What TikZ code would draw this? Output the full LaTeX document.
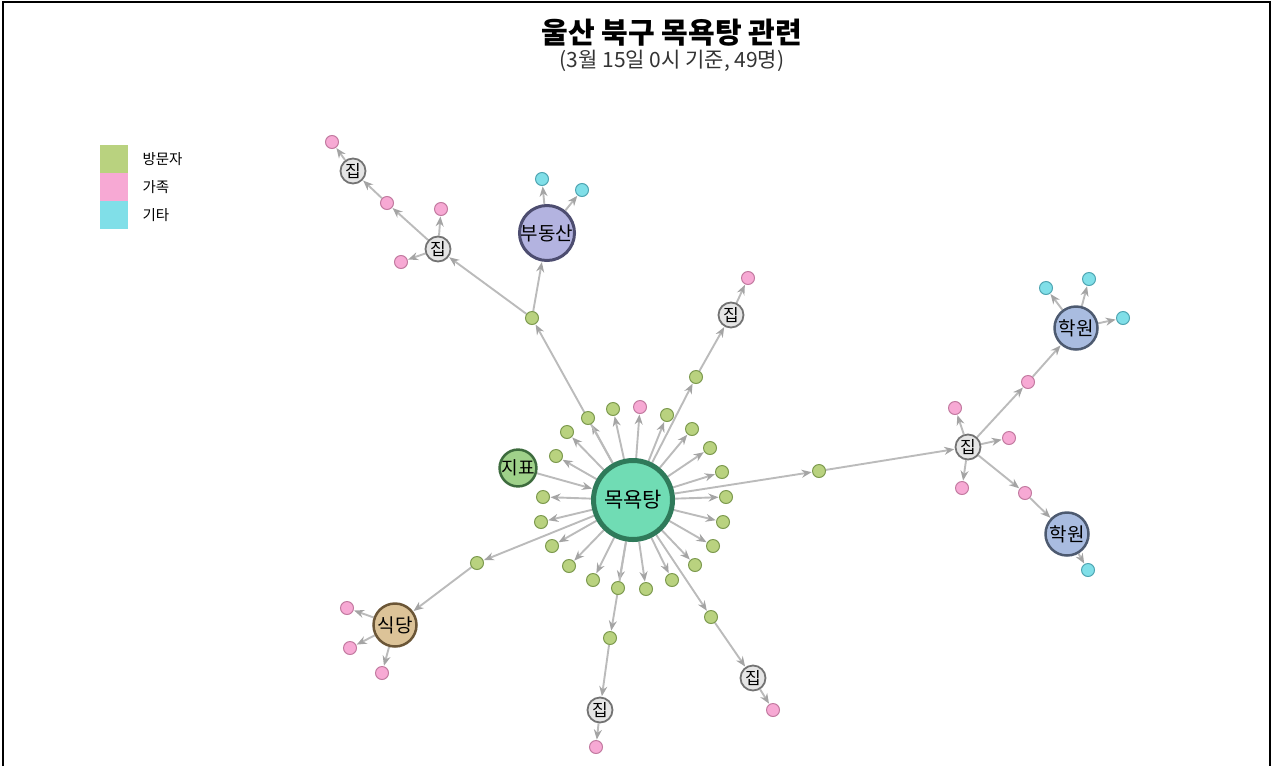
\documentclass[tikz,border=0pt]{standalone}
\usepackage{fontspec}
\newfontfamily\kr{Noto Sans CJK KR}
\usetikzlibrary{arrows.meta,backgrounds}
\definecolor{vfill}{HTML}{B9D27F}
\definecolor{vdraw}{HTML}{7D9A4F}
\definecolor{ffill}{HTML}{F7A9D4}
\definecolor{fdraw}{HTML}{C27AA0}
\definecolor{ofill}{HTML}{80DFE8}
\definecolor{odraw}{HTML}{4FA5B2}
\definecolor{edgec}{HTML}{BBBBBB}
\definecolor{tipc}{HTML}{A4A4A4}
\begin{document}
\begin{tikzpicture}[x=1pt,y=-1pt,
  person/.style={circle,inner sep=0pt,minimum size=13pt,line width=1pt},
  vis/.style={person,fill=vfill,draw=vdraw},
  fam/.style={person,fill=ffill,draw=fdraw},
  oth/.style={person,fill=ofill,draw=odraw},
  place/.style={circle,inner sep=0pt,font=\kr\fontsize{19}{19}\selectfont},
  house/.style={place,minimum size=25pt,line width=1.8pt,fill=black!10,draw=black!55,font=\kr\fontsize{17}{17}\selectfont},
  edge/.style={draw=edgec,line width=1.9pt,-{Stealth[length=10pt,width=8pt,color=tipc]},shorten >=0.5pt},
  legbox/.style={minimum width=28pt,minimum height=28pt,inner sep=0pt},
  leglab/.style={anchor=west,font=\kr\fontsize{14.5}{14.5}\selectfont}
]
\useasboundingbox (0,0) rectangle (1273,766);
\draw[line width=1.5pt] (3,766) |- (1270,2) -- (1270,766);
% title
\node[font=\kr\bfseries\fontsize{29}{29}\selectfont] (title) at (672,33) {울산 북구 목욕탕 관련};
\node[font=\kr\fontsize{21}{21}\selectfont,text=black!80] (sub) at (672,61) {(3월 15일 0시 기준, 49명)};
% legend
\node[legbox,fill=vfill] (lg1) at (114,159) {};
\node[legbox,fill=ffill] (lg2) at (114,187) {};
\node[legbox,fill=ofill] (lg3) at (114,215) {};
\node[leglab] (lt1) at (139,159) {방문자};
\node[leglab] (lt2) at (139,187) {가족};
\node[leglab] (lt3) at (139,215) {기타};
% centre
\node[place,minimum size=79pt,line width=5pt,fill={rgb,255:red,112;green,220;blue,180},draw={rgb,255:red,47;green,122;blue,90},font=\kr\fontsize{21}{21}\selectfont] (c) at (633,500) {목욕탕};
\node[place,minimum size=32pt,line width=2.5pt,fill={rgb,255:red,159;green,209;blue,138},draw={rgb,255:red,61;green,107;blue,61},font=\kr\fontsize{18}{18}\selectfont] (jp) at (518,468) {지표};
% ring
\foreach \x/\y [count=\i] in {588/418,613/409,667/415,692/429,710/448,722/472,726/497,723/522,713/546,695/565,672/580,646/589,618/588,593/580,569/566,552/546,541/522,543/497,556/456,567/432}{
  \node[vis] (r\i) at (\x,\y) {};
}
\node[fam] (rp) at (640,407) {};
% top-left branch
\node[vis] (g1) at (532,318) {};
\node[house] (h1) at (438,249) {집};
\node[fam] (p1) at (387,203) {};
\node[house] (h2) at (353,171) {집};
\node[fam] (p2) at (332,142) {};
\node[fam] (p3) at (441,209) {};
\node[fam] (p4) at (401,262) {};
\node[place,minimum size=53pt,line width=3pt,fill={rgb,255:red,179;green,179;blue,224},draw={rgb,255:red,77;green,77;blue,112}] (bd) at (547,233) {부동산};
\node[oth] (o1) at (542,179) {};
\node[oth] (o2) at (582,190) {};
% top-right branch
\node[vis] (g2) at (696,377) {};
\node[house] (h3) at (731,315) {집};
\node[fam] (p5) at (748,278) {};
% right branch
\node[vis] (g3) at (819,471) {};
\node[house] (h4) at (968,447) {집};
\node[fam] (p6) at (955,408) {};
\node[fam] (p7) at (1009,438) {};
\node[fam] (p8) at (962,488) {};
\node[fam] (p9) at (1028,382) {};
\node[fam] (p10) at (1025,493) {};
\node[place,minimum size=43pt,line width=2.5pt,fill={rgb,255:red,169;green,188;blue,224},draw={rgb,255:red,77;green,90;blue,112}] (ha1) at (1076,328) {학원};
\node[place,minimum size=43pt,line width=2.5pt,fill={rgb,255:red,169;green,188;blue,224},draw={rgb,255:red,77;green,90;blue,112}] (ha2) at (1067,534) {학원};
\node[oth] (o3) at (1046,288) {};
\node[oth] (o4) at (1089,279) {};
\node[oth] (o5) at (1123,318) {};
\node[oth] (o6) at (1088,570) {};
% bottom-left branch
\node[vis] (g4) at (477,563) {};
\node[place,minimum size=43pt,line width=2.5pt,fill={rgb,255:red,220;green,195;blue,152},draw={rgb,255:red,107;green,86;blue,55}] (sd) at (395,625) {식당};
\node[fam] (p11) at (347,608) {};
\node[fam] (p12) at (350,648) {};
\node[fam] (p13) at (382,673) {};
% bottom branches
\node[vis] (g5) at (610,638) {};
\node[house] (h5) at (600,710) {집};
\node[fam] (p14) at (596,747) {};
\node[vis] (g6) at (711,617) {};
\node[house] (h6) at (753,678) {집};
\node[fam] (p15) at (773,710) {};
% edges
\begin{pgfonlayer}{background}
\foreach \i in {1,...,20}{\draw[edge] (c) -- (r\i);}
\draw[edge] (c) -- (rp);
\draw[edge] (jp) -- (c);
\draw[edge] (c) -- (g1);
\draw[edge] (g1) -- (h1);
\draw[edge] (g1) -- (bd);
\draw[edge] (h1) -- (p1);
\draw[edge] (p1) -- (h2);
\draw[edge] (h2) -- (p2);
\draw[edge] (h1) -- (p3);
\draw[edge] (h1) -- (p4);
\draw[edge] (bd) -- (o1);
\draw[edge] (bd) -- (o2);
\draw[edge] (c) -- (g2);
\draw[edge] (g2) -- (h3);
\draw[edge] (h3) -- (p5);
\draw[edge] (c) -- (g3);
\draw[edge] (g3) -- (h4);
\draw[edge] (h4) -- (p6);
\draw[edge] (h4) -- (p7);
\draw[edge] (h4) -- (p8);
\draw[edge] (h4) -- (p9);
\draw[edge] (h4) -- (p10);
\draw[edge] (p9) -- (ha1);
\draw[edge] (p10) -- (ha2);
\draw[edge] (ha1) -- (o3);
\draw[edge] (ha1) -- (o4);
\draw[edge] (ha1) -- (o5);
\draw[edge] (ha2) -- (o6);
\draw[edge] (c) -- (g4);
\draw[edge] (g4) -- (sd);
\draw[edge] (sd) -- (p11);
\draw[edge] (sd) -- (p12);
\draw[edge] (sd) -- (p13);
\draw[edge] (c) -- (g5);
\draw[edge] (g5) -- (h5);
\draw[edge] (h5) -- (p14);
\draw[edge] (c) -- (g6);
\draw[edge] (g6) -- (h6);
\draw[edge] (h6) -- (p15);
\end{pgfonlayer}
\end{tikzpicture}
\end{document}
